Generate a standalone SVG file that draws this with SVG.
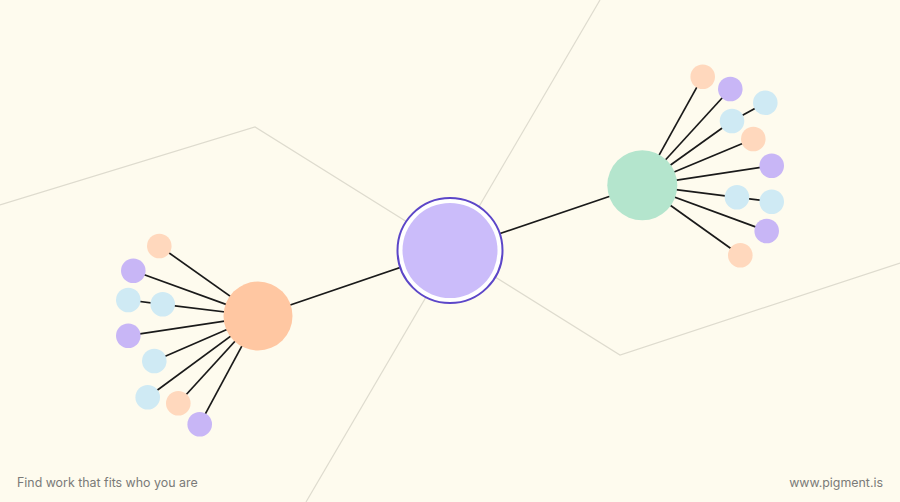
<svg xmlns="http://www.w3.org/2000/svg" width="900" height="502" viewBox="0 0 900 502">
<style>
.bg{fill:#fefbee}
.grid{fill:none;stroke:#dedbce;stroke-width:1.2}
.edge{stroke:#1a1a1a;stroke-width:1.7;fill:none}
.peach{fill:#ffd8bd}
.purple{fill:#c8b6f6}
.blue{fill:#cfeaf4}
.txt{font-family:Inter,"Liberation Sans",sans-serif;font-size:12.4px;fill:#7a7a78}
</style>
<rect class="bg" width="900" height="502"/>
<g id="background-lines">
<polyline class="grid" points="0,205 255,127 620,355 900,263"/>
<line class="grid" x1="600" y1="0" x2="306" y2="502"/>
</g>
<g id="connectors">
<line class="edge" x1="258" y1="316" x2="450" y2="250.5"/>
<line class="edge" x1="450" y1="250.5" x2="642.3" y2="185.3"/>
<line class="edge" x1="258" y1="316" x2="159.3" y2="246"/>
<line class="edge" x1="258" y1="316" x2="133.3" y2="270.7"/>
<line class="edge" x1="258" y1="316" x2="162.7" y2="304.3"/>
<line class="edge" x1="162.7" y1="304.3" x2="128.3" y2="300"/>
<line class="edge" x1="258" y1="316" x2="128.3" y2="335.7"/>
<line class="edge" x1="258" y1="316" x2="154.3" y2="361"/>
<line class="edge" x1="258" y1="316" x2="147.7" y2="397.3"/>
<line class="edge" x1="258" y1="316" x2="178.3" y2="403.3"/>
<line class="edge" x1="258" y1="316" x2="199.7" y2="424.3"/>
<line class="edge" x1="642.3" y1="185.3" x2="702.7" y2="76.7"/>
<line class="edge" x1="642.3" y1="185.3" x2="730.3" y2="89"/>
<line class="edge" x1="642.3" y1="185.3" x2="732" y2="121"/>
<line class="edge" x1="732" y1="121" x2="765.3" y2="102.7"/>
<line class="edge" x1="642.3" y1="185.3" x2="753.3" y2="139"/>
<line class="edge" x1="642.3" y1="185.3" x2="771.7" y2="165.7"/>
<line class="edge" x1="642.3" y1="185.3" x2="737" y2="197.3"/>
<line class="edge" x1="737" y1="197.3" x2="771.7" y2="201.7"/>
<line class="edge" x1="642.3" y1="185.3" x2="766.7" y2="231"/>
<line class="edge" x1="642.3" y1="185.3" x2="740.3" y2="255.3"/>
</g>
<g id="center-node">
<circle cx="450" cy="250.5" r="52.5" fill="#ffffff" stroke="#5c46c8" stroke-width="2"/>
<circle cx="450" cy="250.5" r="47.5" fill="#cbbcfa"/>
</g>
<g id="orange-hub"><circle cx="258" cy="316" r="34.5" fill="#ffc7a2"/></g>
<g id="green-hub"><circle cx="642.3" cy="185.3" r="35" fill="#b4e5cd"/></g>
<g id="left-leaves">
<circle id="l1" class="peach" cx="159.3" cy="246" r="12.3"/>
<circle id="l2" class="purple" cx="133.3" cy="270.7" r="12.3"/>
<circle id="l3" class="blue" cx="128.3" cy="300" r="12.3"/>
<circle id="l4" class="blue" cx="162.7" cy="304.3" r="12.3"/>
<circle id="l5" class="purple" cx="128.3" cy="335.7" r="12.3"/>
<circle id="l6" class="blue" cx="154.3" cy="361" r="12.3"/>
<circle id="l7" class="blue" cx="147.7" cy="397.3" r="12.3"/>
<circle id="l8" class="peach" cx="178.3" cy="403.3" r="12.3"/>
<circle id="l9" class="purple" cx="199.7" cy="424.3" r="12.3"/>
</g>
<g id="right-leaves">
<circle id="r1" class="peach" cx="702.7" cy="76.7" r="12.3"/>
<circle id="r2" class="purple" cx="730.3" cy="89" r="12.3"/>
<circle id="r3" class="blue" cx="765.3" cy="102.7" r="12.3"/>
<circle id="r4" class="blue" cx="732" cy="121" r="12.3"/>
<circle id="r5" class="peach" cx="753.3" cy="139" r="12.3"/>
<circle id="r6" class="purple" cx="771.7" cy="165.7" r="12.3"/>
<circle id="r7" class="blue" cx="737" cy="197.3" r="12.3"/>
<circle id="r8" class="blue" cx="771.7" cy="201.7" r="12.3"/>
<circle id="r9" class="purple" cx="766.7" cy="231" r="12.3"/>
<circle id="r10" class="peach" cx="740.3" cy="255.3" r="12.3"/>
</g>
<text class="txt" x="17" y="487">Find work that fits who you are</text>
<text class="txt" x="883" y="487" text-anchor="end">www.pigment.is</text>
</svg>
